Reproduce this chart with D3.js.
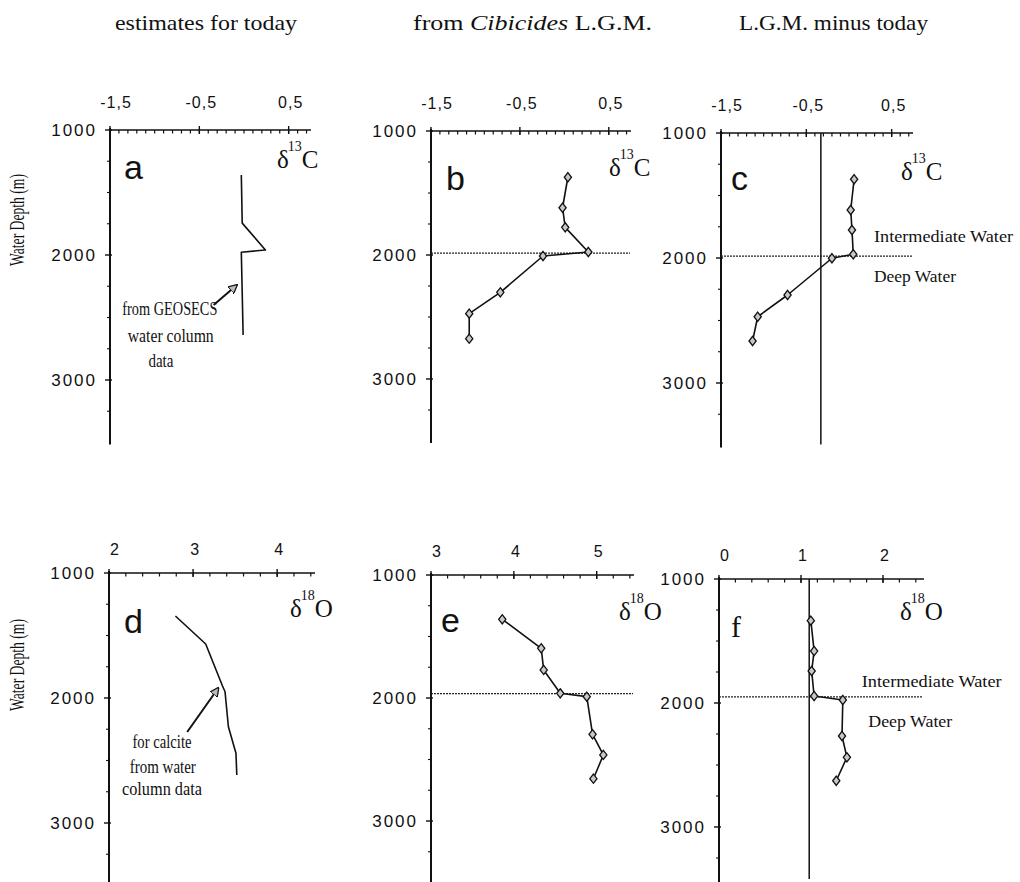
<!DOCTYPE html>
<html>
<head>
<meta charset="utf-8">
<script src="https://cdn.jsdelivr.net/npm/d3@7/dist/d3.min.js"></script>
<style>
  html, body { margin: 0; padding: 0; background: #fff; }
  svg { display: block; }
</style>
</head>
<body>
<script>
// ---- data -------------------------------------------------------------
const rowTitles = ["estimates for today", "from Cibicides L.G.M.", "L.G.M. minus today"];
const depthTicks = [1000, 2000, 3000];
const depthTickLabels = ["1000", "2000", "3000"];

const carbonTicks = [-1.5, -0.5, 0.5];
const carbonTickLabels = ["-1,5", "-0,5", "0,5"];
const oxyTicksD = [2, 3, 4];
const oxyTicksE = [3, 4, 5];
const oxyTicksF = [0, 1, 2];

// a: d13C estimates for today (GEOSECS water column)
const aDepth = [1360, 1745, 1960, 1978, 2300, 2640];
const aD13C  = [-0.03, -0.02, 0.24, -0.03, -0.02, -0.01];
// b: d13C from Cibicides, L.G.M.
const bDepth = [1373, 1619, 1777, 1976, 2008, 2301, 2473, 2675];
const bD13C  = [0.04, -0.02, 0.01, 0.27, -0.24, -0.72, -1.07, -1.07];
// c: d13C L.G.M. minus today
const cDepth = [1370, 1616, 1776, 1970, 2002, 2296, 2470, 2664];
const cD13C  = [0.06, 0.02, 0.035, 0.05, -0.20, -0.72, -1.07, -1.13];
const cMean  = -0.33;
// d: d18O estimates for today (calcite from water column)
const dDepth = [1344, 1568, 1904, 1950, 2230, 2442, 2616];
const dD18O  = [2.79, 3.15, 3.35, 3.38, 3.42, 3.51, 3.52];
// e: d18O from Cibicides, L.G.M.
const eDepth = [1360, 1596, 1772, 1962, 1989, 2295, 2463, 2656];
const eD18O  = [3.86, 4.33, 4.36, 4.56, 4.88, 4.95, 5.08, 4.96];
// f: d18O L.G.M. minus today
const fDepth = [1336, 1581, 1742, 1944, 1976, 2266, 2438, 2627];
const fD18O  = [1.12, 1.16, 1.13, 1.16, 1.51, 1.50, 1.56, 1.43];
const fMean  = 1.10;

// boundary between intermediate and deep water
const boundaryTop = 1985;
const boundaryBottom = 1965;

// ---- drawing ----------------------------------------------------------
const W = 1020, H = 882;
const svg = d3.select("body").append("svg").attr("width", W).attr("height", H);

const defs = svg.append("defs");
defs.append("marker")
  .attr("id", "arrowhead")
  .attr("viewBox", "0 0 10 10")
  .attr("refX", 9).attr("refY", 5)
  .attr("markerWidth", 9).attr("markerHeight", 9)
  .attr("markerUnits", "userSpaceOnUse")
  .attr("orient", "auto")
  .append("path")
  .attr("d", "M0,0 L10,5 L0,10 Z")
  .attr("fill", "#bbb").attr("stroke", "#111").attr("stroke-width", 1.4);

const INK = "#111";
const sansFont = "'Liberation Sans', Arial, sans-serif";
const narrowFont = "'Liberation Sans Narrow', 'Liberation Sans', sans-serif";
const serifFont = "'Liberation Serif', 'Times New Roman', serif";

// column titles
const titleGeom = [
  {x: 115, w: 182}, {x: 413, w: 239}, {x: 739, w: 189}
];
rowTitles.forEach((t, i) => {
  const txt = svg.append("text")
    .attr("x", titleGeom[i].x).attr("y", 30)
    .attr("font-family", serifFont).attr("font-size", 22)
    .attr("fill", INK)
    .attr("textLength", titleGeom[i].w)
    .attr("lengthAdjust", "spacingAndGlyphs");
  if (t.includes("Cibicides")) {
    const parts = t.split("Cibicides");
    txt.append("tspan").text(parts[0]);
    txt.append("tspan").attr("font-style", "italic").text("Cibicides");
    txt.append("tspan").text(parts[1]);
  } else {
    txt.text(t);
  }
});

// y-axis titles
[220, 665].forEach(cy => {
  svg.append("text")
    .attr("transform", `translate(24,${cy}) rotate(-90)`)
    .attr("text-anchor", "middle")
    .attr("font-family", serifFont).attr("font-size", 20)
    .attr("fill", INK)
    .attr("textLength", 92).attr("lengthAdjust", "spacingAndGlyphs")
    .text("Water Depth (m)");
});

function panel(cfg) {
  const x = d3.scaleLinear().domain(cfg.xDomain).range(cfg.xRange);
  const y = d3.scaleLinear().domain([1000, 3500])
    .range([cfg.top, cfg.top + 2500 * cfg.k]);
  const g = svg.append("g");
  const x0 = cfg.xRange[0], x1 = cfg.xRange[1];
  const yBottom = Math.min(H, y(3500) + cfg.extra);

  // top axis
  g.append("line").attr("x1", x0).attr("x2", x1)
    .attr("y1", y(1000)).attr("y2", y(1000))
    .attr("stroke", INK).attr("stroke-width", 1.6);
  const minor = d3.range(cfg.xDomain[0] + cfg.minorStep, cfg.xDomain[1], cfg.minorStep);
  g.selectAll(null).data(minor).join("line")
    .attr("x1", d => x(d)).attr("x2", d => x(d))
    .attr("y1", y(1000)).attr("y2", y(1000) + 3.5)
    .attr("stroke", INK).attr("stroke-width", 1.2);
  g.selectAll(null).data(cfg.ticks).join("line")
    .attr("x1", d => x(d)).attr("x2", d => x(d))
    .attr("y1", y(1000) - 4).attr("y2", y(1000) + 4)
    .attr("stroke", INK).attr("stroke-width", 1.4);
  g.selectAll(null).data(cfg.ticks).join("text")
    .attr("x", (d, i) => x(d) + (i === 0 ? 6 : 2))
    .attr("y", y(1000) - cfg.labelGap)
    .attr("text-anchor", "middle")
    .attr("font-family", sansFont).attr("font-size", 16)
    .attr("letter-spacing", 1)
    .attr("fill", INK)
    .text((d, i) => cfg.tickLabels[i]);

  // left axis
  g.append("line").attr("x1", x0).attr("x2", x0)
    .attr("y1", y(1000) - 2).attr("y2", yBottom)
    .attr("stroke", INK).attr("stroke-width", 2);
  const dMinor = d3.range(1250, 3500, 250).filter(d => d % 1000 !== 0);
  g.selectAll(null).data(dMinor).join("line")
    .attr("x1", x0 - 3).attr("x2", x0)
    .attr("y1", d => y(d)).attr("y2", d => y(d))
    .attr("stroke", INK).attr("stroke-width", 1.1);
  g.selectAll(null).data(depthTicks).join("line")
    .attr("x1", x0 - 5).attr("x2", x0 + 2)
    .attr("y1", d => y(d)).attr("y2", d => y(d))
    .attr("stroke", INK).attr("stroke-width", 1.4);
  g.selectAll(null).data(depthTicks).join("text")
    .attr("x", x0 - 13).attr("y", d => y(d) + 6)
    .attr("text-anchor", "end")
    .attr("font-family", sansFont).attr("font-size", 17)
    .attr("letter-spacing", 2)
    .attr("fill", INK)
    .text((d, i) => depthTickLabels[i]);

  // panel letter
  g.append("text")
    .attr("x", cfg.letterPos[0]).attr("y", cfg.letterPos[1])
    .attr("font-family", cfg.letterFont || narrowFont)
    .attr("font-size", cfg.letterSize || 34)
    .attr("fill", INK)
    .text(cfg.letter);

  // isotope label: delta with superscript mass number
  const lab = g.append("text")
    .attr("x", cfg.isoPos[0]).attr("y", cfg.isoPos[1])
    .attr("font-family", serifFont).attr("font-size", 25)
    .attr("fill", INK);
  lab.append("tspan").text("δ");
  lab.append("tspan").attr("font-size", 14).attr("dy", -17).attr("dx", -1).text(cfg.isoMass);
  lab.append("tspan").attr("dy", 17).attr("dx", 0).text(cfg.isoEl);

  // intermediate / deep water boundary
  if (cfg.boundary) {
    g.append("line").attr("x1", x0).attr("x2", x1 - 1)
      .attr("y1", y(cfg.boundary)).attr("y2", y(cfg.boundary))
      .attr("stroke", "#222").attr("stroke-width", 1.3)
      .attr("stroke-dasharray", "2,1");
  }
  // reference (mean shift) line
  if (cfg.mean !== undefined) {
    g.append("line").attr("x1", x(cfg.mean)).attr("x2", x(cfg.mean))
      .attr("y1", y(1000)).attr("y2", yBottom - 3)
      .attr("stroke", INK).attr("stroke-width", 1.5);
  }
  // water mass labels
  if (cfg.waterLabels) {
    cfg.waterLabels.forEach(w => {
      g.append("text")
        .attr("x", x(w.v)).attr("y", y(w.depth))
        .attr("font-family", serifFont).attr("font-size", 17)
        .attr("fill", INK)
        .attr("textLength", w.len).attr("lengthAdjust", "spacingAndGlyphs")
        .text(w.text);
    });
  }

  // profile
  const pts = cfg.depth.map((d, i) => [cfg.values[i], d]);
  g.append("path")
    .attr("d", d3.line().x(p => x(p[0])).y(p => y(p[1]))(pts))
    .attr("fill", "none").attr("stroke", INK)
    .attr("stroke-width", 1.6).attr("stroke-linejoin", "round");
  if (cfg.markers) {
    g.selectAll(null).data(pts).join("path")
      .attr("transform", p => `translate(${x(p[0])},${y(p[1])})`)
      .attr("d", "M0,-4.6 L3.6,0 L0,4.6 L-3.6,0 Z")
      .attr("fill", "#c8c8c8").attr("stroke", INK).attr("stroke-width", 1.3);
  }

  // annotation with arrow
  if (cfg.note) {
    const n = cfg.note;
    n.lines.forEach((t, i) => {
      g.append("text")
        .attr("x", x(n.lineX[i])).attr("y", y(n.lineDepth[i]))
        .attr("text-anchor", "middle")
        .attr("font-family", serifFont).attr("font-size", 18)
        .attr("fill", INK)
        .attr("textLength", n.lens[i]).attr("lengthAdjust", "spacingAndGlyphs")
        .text(t);
    });
    g.append("line")
      .attr("x1", x(n.from[0])).attr("y1", y(n.from[1]))
      .attr("x2", x(n.to[0])).attr("y2", y(n.to[1]))
      .attr("stroke", INK).attr("stroke-width", 2)
      .attr("marker-end", "url(#arrowhead)");
  }
}

const topCommon = {
  xDomain: [-1.5, 0.75], minorStep: 0.1,
  ticks: carbonTicks, tickLabels: carbonTickLabels,
  labelGap: 22, isoMass: "13", isoEl: "C", extra: 2
};
const botCommon = {
  minorStep: 0.2, labelGap: 18, isoMass: "18", isoEl: "O", extra: 10
};

panel(Object.assign({}, topCommon, {
  xRange: [110, 311], top: 130, k: 0.125,
  letter: "a", letterPos: [124, 179], isoPos: [277, 168],
  depth: aDepth, values: aD13C, markers: false,
  note: {
    lines: ["from GEOSECS", "water column", "data"],
    lineX: [-0.83, -0.82, -0.93],
    lineDepth: [2480, 2696, 2896],
    lens: [95, 86, 25],
    from: [-0.34, 2400], to: [-0.08, 2240]
  }
}));
panel(Object.assign({}, topCommon, {
  xRange: [431, 631], top: 131, k: 0.124,
  letter: "b", letterPos: [446, 190], isoPos: [609, 176],
  depth: bDepth, values: bD13C, markers: true, boundary: boundaryTop
}));
panel(Object.assign({}, topCommon, {
  xRange: [721, 913], top: 133, k: 0.125,
  letter: "c", letterPos: [731, 190], isoPos: [901, 180],
  depth: cDepth, values: cD13C, markers: true, boundary: boundaryTop,
  mean: cMean,
  waterLabels: [
    {text: "Intermediate Water", v: 0.293, depth: 1872, len: 139},
    {text: "Deep Water", v: 0.293, depth: 2192, len: 82}
  ]
}));
panel(Object.assign({}, botCommon, {
  xDomain: [2, 4.45], xRange: [109, 315], top: 573, k: 0.125,
  ticks: oxyTicksD, tickLabels: oxyTicksD.map(String),
  letter: "d", letterPos: [124, 633], isoPos: [290, 617],
  depth: dDepth, values: dD18O, markers: false,
  note: {
    lines: ["for calcite", "from water", "column data"],
    lineX: [2.63, 2.64, 2.63],
    lineDepth: [2400, 2600, 2776],
    lens: [59, 66, 80],
    from: [2.93, 2272], to: [3.30, 1920]
  }
}));
panel(Object.assign({}, botCommon, {
  xDomain: [3, 5.45], xRange: [431, 634], top: 575, k: 0.123,
  ticks: oxyTicksE, tickLabels: oxyTicksE.map(String),
  letter: "e", letterPos: [441, 632], isoPos: [619, 620],
  depth: eDepth, values: eD18O, markers: true, boundary: boundaryBottom
}));
panel(Object.assign({}, botCommon, {
  xDomain: [0, 2.5], xRange: [719, 924], top: 579, k: 0.124,
  ticks: oxyTicksF, tickLabels: oxyTicksF.map(String),
  letter: "f", letterPos: [731, 637], letterFont: serifFont, letterSize: 30,
  isoPos: [900, 620],
  depth: fDepth, values: fD18O, markers: true, boundary: 1950,
  mean: fMean,
  waterLabels: [
    {text: "Intermediate Water", v: 1.74, depth: 1871, len: 140},
    {text: "Deep Water", v: 1.82, depth: 2194, len: 84}
  ]
}));
</script>
</body>
</html>
